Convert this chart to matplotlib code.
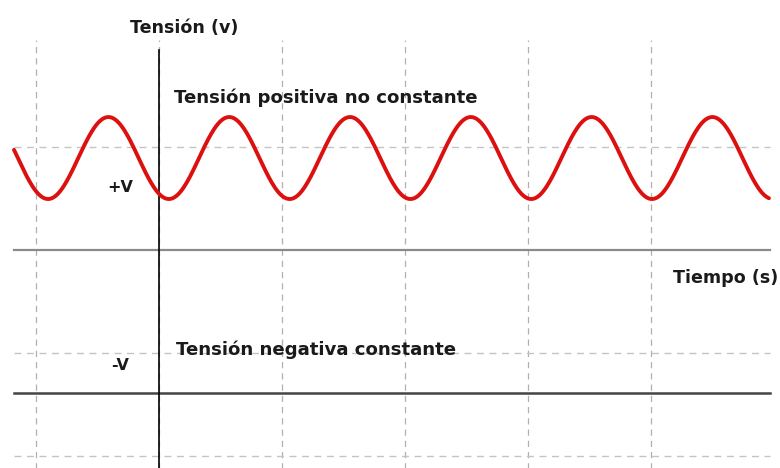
import numpy as np
import matplotlib
matplotlib.use("Agg")
from matplotlib import pyplot as plt

# grid positions (time units / voltage units)
grid_t = [-1, 0, 1, 2, 3, 4]
grid_v = [1, -1, -2]

# sine wave parameters
v_offset = 0.893      # centre of the red wave
v_amp = 0.398         # amplitude
period = 0.982        # time units per cycle
t_trough = -0.902     # time of one trough
t_start, t_end = -1.179, 4.959

# constant negative voltage
v_neg = -1.388

fig = plt.figure(figsize=(7.8, 4.68), dpi=100)
ax = fig.add_axes([0, 0, 1, 1])
ax.set_xlim(-159 / 123, 621 / 123)
ax.set_ylim(-218 / 103, 250 / 103)
ax.axis("off")

# dashed grid
for t in grid_t:
    ax.plot([t, t], [-2.2, 2.04], color="#b0b0b0", lw=0.9, ls=(0, (5, 4)), zorder=1)
for v in grid_v:
    ax.plot([t_start, t_end + 0.01], [v, v], color="#c4c4c4", lw=1.0, ls=(0, (5, 4)), zorder=1)

# axes
ax.plot([t_start, t_end + 0.01], [0, 0], color="#8a8a8a", lw=1.6, zorder=2)
ax.plot([0, 0], [-2.2, 1.94], color="black", lw=1.2, zorder=3)

# red wave
t = np.linspace(t_start, t_end, 800)
v = v_offset - v_amp * np.cos(2 * np.pi * (t - t_trough) / period)
ax.plot(t, v, color="#dd1010", lw=2.8, zorder=4, solid_capstyle="round")

# negative constant
ax.plot([t_start, t_end + 0.01], [v_neg, v_neg], color="#444444", lw=1.8, zorder=2)

font = dict(fontweight="bold", color="#1a1a1a", va="center", ha="left")
ax.text(-0.236, 2.155, "Tensión (v)", fontsize=12.6, **font)
ax.text(0.122, 1.476, "Tensión positiva no constante", fontsize=13.1, **font)
ax.text(-0.423, 0.602, "+V", fontsize=11.5, **font)
ax.text(-0.390, -1.126, "-V", fontsize=11.5, **font)
ax.text(0.138, -0.971, "Tensión negativa constante", fontsize=13.1, **font)
ax.text(4.179, -0.272, "Tiempo (s)", fontsize=12.6, **font)

fig.savefig("out.png", dpi=100)
